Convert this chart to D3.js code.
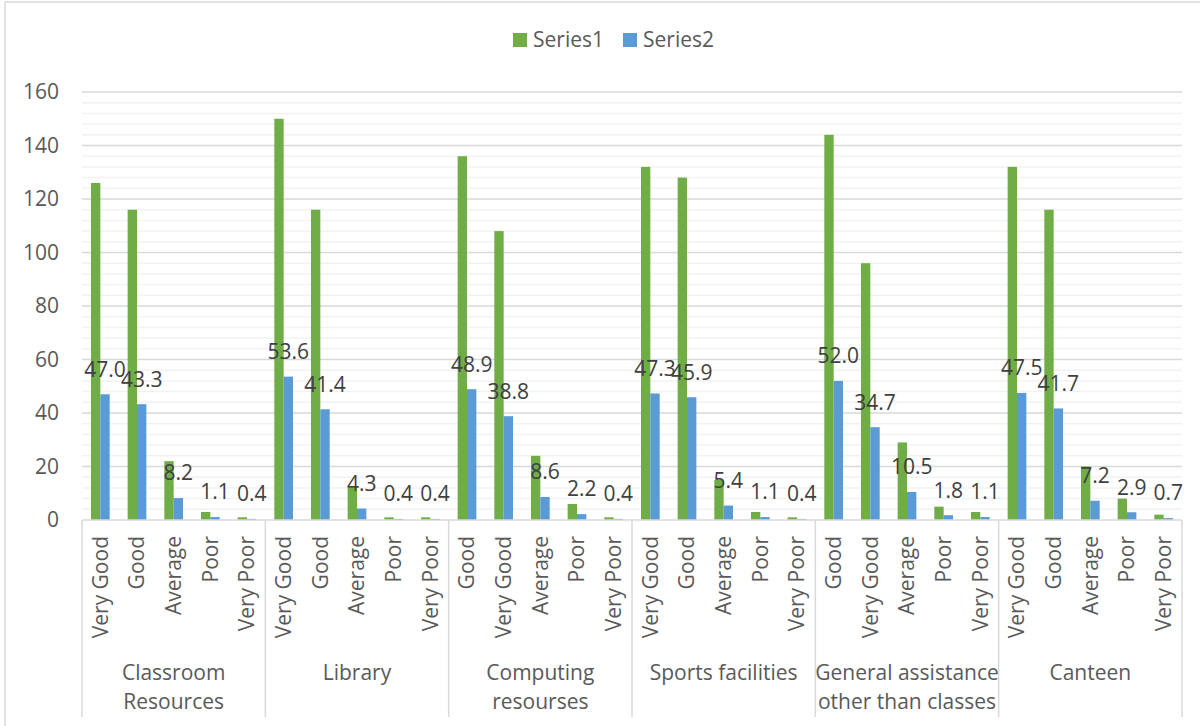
<!DOCTYPE html>
<meta charset="utf-8">
<style>
body { margin: 0; background: #fff; }
text { font-family: "Open Sans", sans-serif; }
</style>
<svg width="1200" height="726"></svg>
<script src="https://d3js.org/d3.v7.min.js"></script>
<script>

// chart data
var groups = ["Classroom Resources", "Library", "Computing resourses", "Sports facilities",
              "General assistance other than classes", "Canteen"];
var groupLines = [["Classroom", "Resources"], ["Library"], ["Computing", "resourses"],
                  ["Sports facilities"], ["General assistance", "other than classes"], ["Canteen"]];
var ratings = [
  ["Very Good", "Good", "Average", "Poor", "Very Poor"],
  ["Very Good", "Good", "Average", "Poor", "Very Poor"],
  ["Good", "Very Good", "Average", "Poor", "Very Poor"],
  ["Very Good", "Good", "Average", "Poor", "Very Poor"],
  ["Good", "Very Good", "Average", "Poor", "Very Poor"],
  ["Very Good", "Good", "Average", "Poor", "Very Poor"]
];
var series1 = [
  [126, 116, 22, 3, 1],
  [150, 116, 12, 1, 1],
  [136, 108, 24, 6, 1],
  [132, 128, 15, 3, 1],
  [144, 96, 29, 5, 3],
  [132, 116, 20, 8, 2]
];
var series2 = [
  [47.0, 43.3, 8.2, 1.1, 0.4],
  [53.6, 41.4, 4.3, 0.4, 0.4],
  [48.9, 38.8, 8.6, 2.2, 0.4],
  [47.3, 45.9, 5.4, 1.1, 0.4],
  [52.0, 34.7, 10.5, 1.8, 1.1],
  [47.5, 41.7, 7.2, 2.9, 0.7]
];
var seriesNames = ["Series1", "Series2"];
var colors = ["#70ad47", "#5b9bd5"];
var yTicks = [0, 20, 40, 60, 80, 100, 120, 140, 160];

var svg = d3.select("svg"),
    plotL = 82, plotR = 1182, plotT = 92, plotB = 520,
    fs = 21;

var x0 = d3.scaleBand().domain(d3.range(groups.length)).range([plotL, plotR]);
var x1 = d3.scaleBand().domain(d3.range(5)).range([0, x0.bandwidth()])
    .paddingInner(0.49).paddingOuter(0.245);
var x2 = d3.scaleBand().domain([0, 1]).range([0, x1.bandwidth()]);
var y = d3.scaleLinear().domain([0, 160]).range([plotB, plotT]);

// chart frame
svg.append("line").attr("x1", 5).attr("x2", 1200).attr("y1", 2).attr("y2", 2)
    .attr("stroke", "#d9d9d9").attr("stroke-width", 1.5);
svg.append("line").attr("x1", 5).attr("x2", 5).attr("y1", 2).attr("y2", 726)
    .attr("stroke", "#d9d9d9").attr("stroke-width", 1.5);

// gridlines
var minor = d3.range(0, 161, 4).filter(function(d) { return d % 20 !== 0; });
svg.append("g").selectAll("line").data(minor).enter().append("line")
    .attr("x1", plotL).attr("x2", plotR)
    .attr("y1", function(d) { return y(d); }).attr("y2", function(d) { return y(d); })
    .attr("stroke", "#f2f2f2").attr("stroke-width", 1.5);
svg.append("g").selectAll("line").data(yTicks.slice(1)).enter().append("line")
    .attr("x1", plotL).attr("x2", plotR)
    .attr("y1", function(d) { return y(d); }).attr("y2", function(d) { return y(d); })
    .attr("stroke", "#d9d9d9").attr("stroke-width", 1.5);

// y axis labels
var yAxis = svg.append("g").attr("transform", "translate(" + plotL + ",0)")
    .call(d3.axisLeft(y).tickValues(yTicks).tickSize(0).tickPadding(23));
yAxis.select(".domain").remove();
yAxis.selectAll("text").style("font-family", "Open Sans").style("font-size", fs + "px")
    .attr("fill", "#595959");

// bars
var gGroup = svg.append("g").selectAll("g").data(groups).enter().append("g")
    .attr("transform", function(d, i) { return "translate(" + x0(i) + ",0)"; });

gGroup.each(function(g, gi) {
  var cat = d3.select(this).selectAll("g.cat").data(d3.range(5)).enter().append("g")
      .attr("class", "cat")
      .attr("transform", function(c) { return "translate(" + x1(c) + ",0)"; });
  cat.selectAll("rect").data(function(c) { return [series1[gi][c], series2[gi][c]]; })
    .enter().append("rect")
      .attr("x", function(v, si) { return x2(si); })
      .attr("y", function(v) { return y(v); })
      .attr("width", x2.bandwidth())
      .attr("height", function(v) { return y(0) - y(v); })
      .attr("fill", function(v, si) { return colors[si]; });
  cat.append("text")
      .attr("x", x2(1) + x2.bandwidth() / 2)
      .attr("y", function(c) { return y(series2[gi][c]) - 25; })
      .attr("dy", "0.35em")
      .attr("text-anchor", "middle")
      .attr("font-size", fs).attr("fill", "#404040")
      .text(function(c) { return series2[gi][c].toFixed(1); });
  // category labels
  d3.select(this).selectAll("text.rt").data(ratings[gi]).enter().append("text")
      .attr("class", "rt")
      .attr("transform", function(r, c) {
        return "translate(" + (x1(c) + x1.bandwidth() / 2) + ",536) rotate(-90)";
      })
      .attr("dy", "0.35em")
      .attr("text-anchor", "end")
      .attr("font-size", fs).attr("fill", "#595959")
      .text(function(r) { return r; });
  // group labels
  d3.select(this).selectAll("text.gl").data(groupLines[gi]).enter().append("text")
      .attr("class", "gl")
      .attr("x", x0.bandwidth() / 2)
      .attr("y", function(l, li) { return 673 + li * 28.5; })
      .attr("dy", "0.35em")
      .attr("text-anchor", "middle")
      .attr("font-size", fs).attr("fill", "#595959")
      .text(function(l) { return l; });
});

// x axis line and group separators
svg.append("line").attr("x1", plotL).attr("x2", plotR).attr("y1", plotB).attr("y2", plotB)
    .attr("stroke", "#d9d9d9").attr("stroke-width", 1.5);
var seps = d3.range(groups.length).map(function(i) { return x0(i); }).concat([plotR]);
svg.append("g").selectAll("line").data(seps).enter().append("line")
    .attr("x1", function(d) { return d; }).attr("x2", function(d) { return d; })
    .attr("y1", plotB).attr("y2", 717)
    .attr("stroke", "#d9d9d9").attr("stroke-width", 1.5);

// legend
var legend = svg.append("g").attr("transform", "translate(513,40)");
var item = legend.selectAll("g").data(seriesNames).enter().append("g")
    .attr("transform", function(d, i) { return "translate(" + (i * 110) + ",0)"; });
item.append("rect").attr("x", 0).attr("y", -7).attr("width", 14).attr("height", 14)
    .attr("fill", function(d, i) { return colors[i]; });
item.append("text").attr("x", 20).attr("dy", "0.35em")
    .attr("font-size", fs).attr("fill", "#595959")
    .text(function(d) { return d; });

</script>
